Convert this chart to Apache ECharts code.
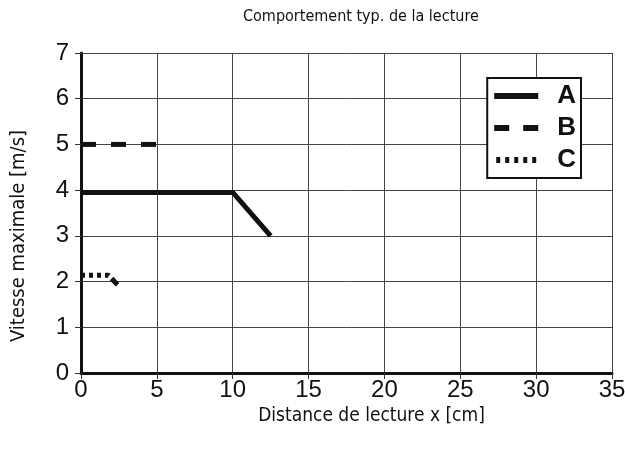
<!DOCTYPE html>
<html lang="fr">
<head>
    <meta charset="UTF-8">
    <title>Comportement typ. de la lecture</title>
    <script src="https://cdn.jsdelivr.net/npm/echarts@6/dist/echarts.min.js"></script>
    <style>
        body { margin: 0; background: #fff; }
        #main { width: 625px; height: 451px; }
    </style>
</head>
<body>
<div id="main"></div>
<script type="text/javascript">
    // données
    var xTicks = [0, 5, 10, 15, 20, 25, 30, 35];
    var yTicks = [0, 1, 2, 3, 4, 5, 6, 7];
    var seriesNames = ['A', 'B', 'C'];
    var dataA = [[0, 3.95], [10, 3.95], [12.5, 3.0]];
    var dataB = [[0, 5], [5, 5]];
    var dataC = [[0, 2.14], [1.8, 2.14], [2.3, 1.97]];

    var condensed = "'Liberation Sans Narrow', 'DejaVu Sans Condensed', sans-serif";
    var arial = "'Liberation Sans', Arial, sans-serif";

    // icônes de légende : trait plein, tirets, pointillés
    var legendIcons = {
        A: 'path://M0,0H44V6H0Z',
        B: 'path://M0,0H15V6H0Z M29,0H44V6H29Z',
        C: 'path://M0,0H4V6H0Z M9,0H13V6H9Z M18,0H22V6H18Z M27,0H31V6H27Z M36,0H40V6H36Z'
    };

    var myChart = echarts.init(document.getElementById('main'));

    var option = {
        backgroundColor: '#fff',
        animation: false,
        title: {
            text: 'Comportement typ. de la lecture',
            left: 238,
            top: 4,
            textStyle: { fontFamily: condensed, fontWeight: 'normal', fontSize: 16, color: '#111' }
        },
        legend: {
            right: 44,
            top: 78,
            orient: 'vertical',
            data: seriesNames.map(function (n) { return { name: n, icon: legendIcons[n] }; }),
            itemWidth: 44,
            itemHeight: 6,
            itemGap: 6,
            padding: [5, 5, 5, 7],
            borderColor: '#111',
            borderWidth: 2,
            backgroundColor: '#fff',
            textStyle: { fontFamily: arial, fontWeight: 'bold', fontSize: 26, color: '#111', padding: [0, 0, 0, 14] }
        },
        grid: { left: 81, right: 13, top: 53, bottom: 78, outerBoundsMode: 'none', containLabel: false },
        xAxis: {
            type: 'value',
            min: 0, max: 35, interval: 5,
            name: 'Distance de lecture x [cm]',
            nameLocation: 'middle',
            nameGap: 34,
            nameTextStyle: { fontFamily: condensed, fontSize: 19, color: '#111', padding: [0, 0, 0, 50] },
            axisLine: { onZero: false, lineStyle: { color: '#111', width: 3 } },
            axisTick: { show: true, length: 6, lineStyle: { color: '#333' } },
            axisLabel: { fontFamily: arial, fontSize: 24, color: '#111', margin: 5,
                formatter: function (v) { return xTicks.indexOf(v) >= 0 ? String(v) : ''; } },
            splitLine: { show: true, lineStyle: { color: '#444', width: 1 } }
        },
        yAxis: {
            type: 'value',
            min: 0, max: 7, interval: 1,
            name: 'Vitesse maximale [m/s]',
            nameLocation: 'middle',
            nameGap: 52,
            nameTextStyle: { fontFamily: condensed, fontSize: 20, color: '#111', padding: [0, 46, 0, 0] },
            axisLine: { show: true, onZero: false, lineStyle: { color: '#111', width: 3 } },
            axisTick: { show: true, length: 6, lineStyle: { color: '#333' } },
            axisLabel: { fontFamily: arial, fontSize: 24, color: '#111', margin: 12,
                formatter: function (v) { return yTicks.indexOf(v) >= 0 ? String(v) : ''; } },
            splitLine: { show: true, lineStyle: { color: '#444', width: 1 } }
        },
        series: [
            {
                name: 'A', type: 'line', data: dataA, symbol: 'none',
                lineStyle: { color: '#111', width: 5 }, itemStyle: { color: '#111' }
            },
            {
                name: 'B', type: 'line', data: dataB, symbol: 'none',
                lineStyle: { color: '#111', width: 5, type: [15, 15], cap: 'butt' }, itemStyle: { color: '#111' }
            },
            {
                name: 'C', type: 'line', data: dataC, symbol: 'none',
                lineStyle: { color: '#111', width: 5, type: [4, 4], cap: 'butt' }, itemStyle: { color: '#111' },
                markPoint: {
                    symbol: 'diamond', symbolSize: 7, label: { show: false },
                    itemStyle: { color: '#111' },
                    data: [{ coord: dataC[dataC.length - 1] }]
                }
            }
        ]
    };

    myChart.setOption(option);
</script>
</body>
</html>
